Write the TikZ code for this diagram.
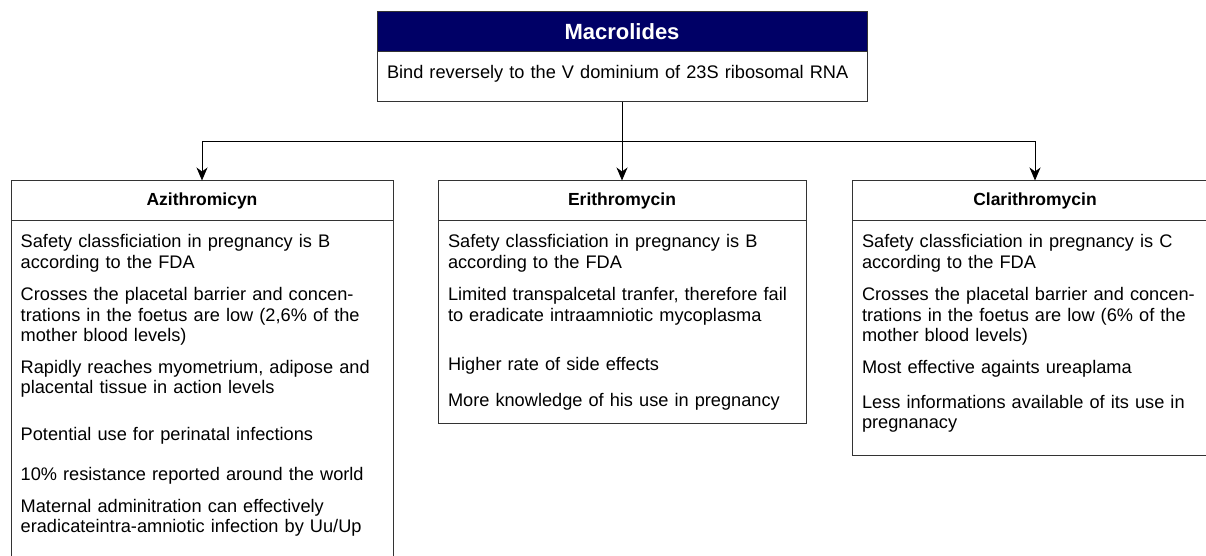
\documentclass[tikz,border=0pt]{standalone}
\usepackage{fontspec}
\setmainfont{Liberation Sans}
\usetikzlibrary{arrows.meta}
\definecolor{navyHead}{HTML}{000066}
\definecolor{boxLine}{HTML}{333333}

\begin{document}
\begin{tikzpicture}
[x=1pt,y=-1pt,
  every node/.style={inner sep=0pt,outer sep=0pt},%
  boxFrame/.style={draw=boxLine,line width=1pt,anchor=north west},
  headText/.style={font=\fontsize{17.5}{21}\selectfont\bfseries},
  itemText/.style={anchor=base west,align=left,text width=370pt,
    font=\fontsize{18.2}{20.7}\selectfont},
  lineArrow/.style={-{Stealth[length=13pt,width=11pt,inset=4pt]},line width=1pt}]
\useasboundingbox (0,0) rectangle (1206,555);
\clip (0,0) rectangle (1206,555);

\node[boxFrame,fill=navyHead,text=white,minimum width=490pt,minimum height=40pt,
  font=\fontsize{22}{26}\selectfont\bfseries] (macHead) at (377,11.5) {Macrolides};
\node[boxFrame,minimum width=490pt,minimum height=50pt] (macBody) at (377,51.5) {};
\node[itemText,text width=480pt] (macNote) at (387,78.5)
  {Bind reversely to the V dominium of 23S ribosomal RNA};

\node[boxFrame,headText,minimum width=382pt,minimum height=40pt] (aziHead) at (11,180.5) {Azithromicyn};
\node[boxFrame,minimum width=382pt,minimum height=360pt] (aziBody) at (11,220.5) {};
\node[boxFrame,headText,minimum width=368pt,minimum height=40pt] (eriHead) at (438,180.5) {Erithromycin};
\node[boxFrame,minimum width=368pt,minimum height=203pt] (eriBody) at (438,220.5) {};
\node[boxFrame,headText,minimum width=366pt,minimum height=40pt] (claHead) at (852,180.5) {Clarithromycin};
\node[boxFrame,minimum width=366pt,minimum height=234.5pt] (claBody) at (852,220.5) {};

\foreach \y/\txt [count=\k] in {
  247.5/{Safety classficiation in pregnancy is B\\according to the FDA},
  300.5/{Crosses the placetal barrier and concen-\\trations in the foetus are low (2,6\% of the\\mother blood levels)},
  373/{Rapidly reaches myometrium, adipose and\\placental tissue in action levels},
  440/{Potential use for perinatal infections},
  480/{10\% resistance reported around the world},
  512/{Maternal adminitration can effectively\\eradicateintra-amniotic infection by Uu/Up}}
{
  \node[itemText] (aziItem\k) at (20.7,\y) {\txt};
}
\foreach \y/\txt [count=\k] in {
  247.5/{Safety classficiation in pregnancy is B\\according to the FDA},
  300.5/{Limited transpalcetal tranfer, therefore fail\\to eradicate intraamniotic mycoplasma},
  370/{Higher rate of side effects},
  406/{More knowledge of his use in pregnancy}}
{
  \node[itemText] (eriItem\k) at (448,\y) {\txt};
}
\foreach \y/\txt [count=\k] in {
  247.5/{Safety classficiation in pregnancy is C\\according to the FDA},
  300.5/{Crosses the placetal barrier and concen-\\trations in the foetus are low (6\% of the\\mother blood levels)},
  373/{Most effective againts ureaplama},
  408/{Less informations available of its use in\\pregnanacy}}
{
  \node[itemText] (claItem\k) at (862,\y) {\txt};
}

\coordinate (split) at (macBody.south |- 0,141.5);
\draw[lineArrow] (macBody.south) -- (eriHead.north);
\draw[lineArrow] (split) -| (aziHead.north);
\draw[lineArrow] (split) -| (claHead.north);
\end{tikzpicture}
\end{document}
